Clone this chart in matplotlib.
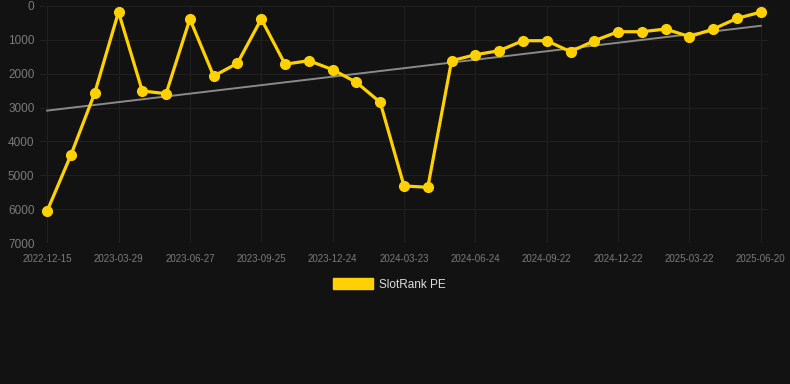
import numpy as np
import matplotlib
matplotlib.use("Agg")
import matplotlib.pyplot as plt
from matplotlib.patches import Patch

plt.rcParams['font.family'] = ['Liberation Sans', 'DejaVu Sans']

# SlotRank PE over time (lower is better, axis inverted)
dates = ["2022-12-15", "2023-01-17", "2023-02-24", "2023-03-29", "2023-04-28",
         "2023-05-28", "2023-06-27", "2023-07-27", "2023-08-26", "2023-09-25",
         "2023-10-25", "2023-11-24", "2023-12-24", "2024-01-23", "2024-02-22",
         "2024-03-23", "2024-04-24", "2024-05-24", "2024-06-24", "2024-07-24",
         "2024-08-23", "2024-09-22", "2024-10-22", "2024-11-21", "2024-12-22",
         "2025-01-21", "2025-02-20", "2025-03-22", "2025-04-21", "2025-05-21",
         "2025-06-20"]
rank = [6055, 4400, 2570, 177, 2510, 2590, 384, 2070, 1690, 384,
        1720, 1615, 1880, 2255, 2845, 5315, 5355, 1615, 1440, 1320,
        1025, 1025, 1350, 1025, 760, 760, 680, 905, 680, 365, 180]

x = np.arange(len(rank))
trend = np.polyval(np.polyfit(x, rank, 1), x)

bg = '#121212'
gold = '#FFD100'

fig = plt.figure(figsize=(7.9, 3.84), dpi=100, facecolor=bg)
ax = fig.add_axes([40/790, 141/384, 728/790, 237/384])
ax.set_facecolor(bg)

ax.plot(x, trend, color='#8a8a8a', lw=1.4, zorder=2)
ax.plot(x, rank, color=gold, lw=2.3, marker='o', ms=7, zorder=3)

ax.set_ylim(7000, 0)
ax.set_xlim(-0.3, 30.3)
ax.set_yticks(range(0, 7001, 1000))
ax.set_xticks(x[::3])
ax.set_xticklabels(dates[::3])
ax.tick_params(axis='x', colors='#7a7a7a', labelsize=7, length=0, pad=8)
ax.tick_params(axis='y', colors='#7a7a7a', labelsize=8.5, length=0, pad=4)
ax.grid(True, color='#202020', lw=0.8)
for s in ax.spines.values():
    s.set_visible(False)

fig.legend(handles=[Patch(color=gold)], labels=['SlotRank PE'],
           loc='center', bbox_to_anchor=(0.4925, 0.26), frameon=False,
           fontsize=8.5, labelcolor='#dddddd', handlelength=3.4,
           handleheight=1.1, handletextpad=0.5)

fig.savefig('out.png', dpi=100, facecolor=bg)
